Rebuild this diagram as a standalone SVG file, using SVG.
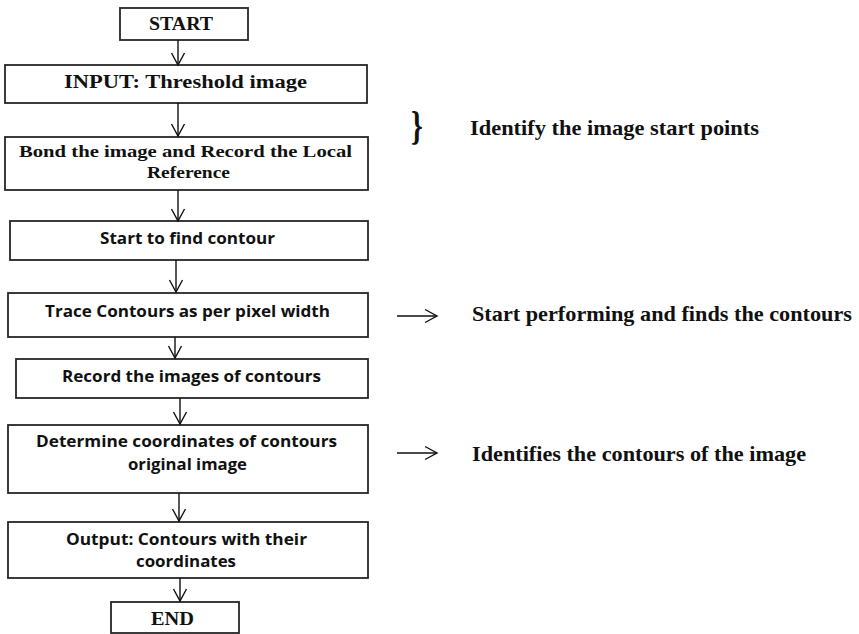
<svg xmlns="http://www.w3.org/2000/svg" width="859" height="634" viewBox="0 0 859 634">
<style>
.box{fill:#fff;stroke:#262626;stroke-width:1.8}
.ser{font-family:"Liberation Serif","Times New Roman",serif;font-weight:bold;fill:#111}
.sans{font-family:"Open Sans","Noto Sans","Liberation Sans",sans-serif;font-weight:bold;fill:#111;font-size:16px}
.c{text-anchor:middle}
.con line{stroke:#111;stroke-width:1.4;fill:none;marker-end:url(#ah)}
</style>
<defs>
<marker id="ah" markerUnits="userSpaceOnUse" viewBox="-14 -8 15 16" refX="0" refY="0" markerWidth="15" markerHeight="16" orient="auto" overflow="visible">
<path d="M-12,-6.5 L0,0 L-12,6.5" fill="none" stroke="#111" stroke-width="1.4"/>
</marker>
</defs>
<rect width="859" height="634" fill="#fff"/>
<g id="start"><rect class="box" x="120" y="8" width="128" height="32"/><text class="ser c" x="181" y="30" font-size="19" textLength="64" lengthAdjust="spacingAndGlyphs">START</text></g>
<g id="input"><rect class="box" x="5" y="65" width="362" height="38"/><text class="ser c" x="185.5" y="88" font-size="18" textLength="243" lengthAdjust="spacingAndGlyphs">INPUT: Threshold  image</text></g>
<g id="bond"><rect class="box" x="5" y="137" width="363" height="53"/><text class="ser c" x="185.5" y="157" font-size="16.5" textLength="333" lengthAdjust="spacingAndGlyphs">Bond the image and Record the Local</text><text class="ser c" x="188.5" y="178" font-size="16.5" textLength="83" lengthAdjust="spacingAndGlyphs">Reference</text></g>
<g id="find"><rect class="box" x="10" y="221" width="358" height="39"/><text class="sans c" x="187.5" y="244" textLength="175" lengthAdjust="spacingAndGlyphs">Start to find contour</text></g>
<g id="trace"><rect class="box" x="8" y="293" width="360" height="44"/><text class="sans c" x="187.5" y="317" textLength="285" lengthAdjust="spacingAndGlyphs">Trace Contours as per pixel width</text></g>
<g id="record"><rect class="box" x="16" y="359" width="352" height="39"/><text class="sans c" x="191.5" y="382" textLength="259" lengthAdjust="spacingAndGlyphs">Record the images of contours</text></g>
<g id="determine"><rect class="box" x="8" y="425" width="360" height="68"/><text class="sans c" x="186.5" y="447" textLength="301" lengthAdjust="spacingAndGlyphs">Determine coordinates of contours</text><text class="sans c" x="187.5" y="470" textLength="119" lengthAdjust="spacingAndGlyphs">original image</text></g>
<g id="output"><rect class="box" x="8" y="522" width="360" height="56"/><text class="sans c" x="186.5" y="545" textLength="241" lengthAdjust="spacingAndGlyphs">Output: Contours with their</text><text class="sans c" x="186" y="567" textLength="100" lengthAdjust="spacingAndGlyphs">coordinates</text></g>
<g id="end"><rect class="box" x="111" y="602" width="128" height="31"/><text class="ser c" x="172.5" y="625" font-size="18" textLength="43" lengthAdjust="spacingAndGlyphs">END</text></g>
<g id="notes">
<text class="ser" x="411" y="139" font-size="40" transform="translate(411 0) scale(0.75 1) translate(-411 0)">}</text>
<text class="ser" x="470" y="135" font-size="22" textLength="289" lengthAdjust="spacingAndGlyphs">Identify the image start points</text>
<text class="ser" x="472" y="321" font-size="22" textLength="380" lengthAdjust="spacingAndGlyphs">Start performing  and finds the contours</text>
<text class="ser" x="472" y="461" font-size="22" textLength="334" lengthAdjust="spacingAndGlyphs">Identifies the contours of the image</text>
</g>
<g id="connectors" class="con">
<line x1="178" y1="40" x2="178" y2="65"/>
<line x1="178" y1="103" x2="178" y2="136"/>
<line x1="178" y1="190" x2="178" y2="221"/>
<line x1="176" y1="260" x2="176" y2="292"/>
<line x1="175" y1="337" x2="175" y2="358"/>
<line x1="180" y1="398" x2="180" y2="424"/>
<line x1="179" y1="493" x2="179" y2="521"/>
<line x1="180" y1="578" x2="180" y2="601"/>
<line x1="397" y1="316" x2="437" y2="316"/>
<line x1="397" y1="453" x2="437" y2="453"/>
</g>
</svg>
